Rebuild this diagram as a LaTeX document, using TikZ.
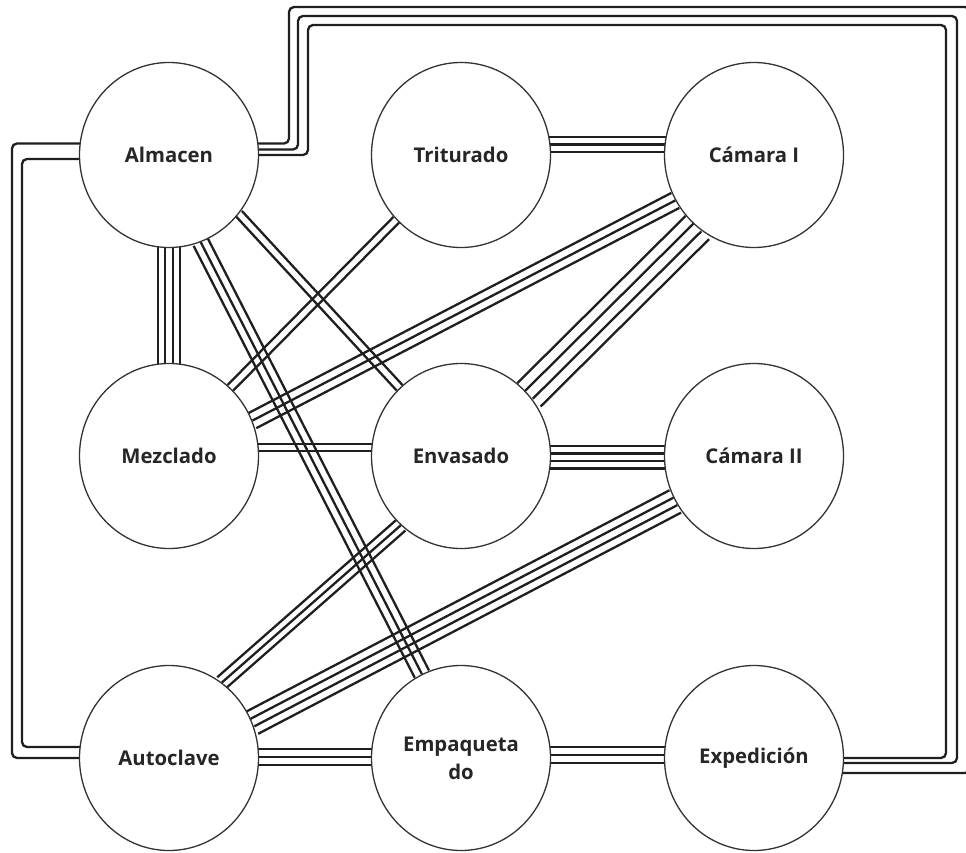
\documentclass[tikz,border=0pt]{standalone}
\usepackage{fontspec}
\setmainfont{Open Sans}
\usetikzlibrary{shapes.geometric,calc,backgrounds}

% n parallel strands between two points, each shifted sideways by an offset
\newcommand\bundle[3]{%
  \foreach \o in {#3}{%
    \draw[wire] ($(#1)!\o!90:(#2)$) -- ($(#2)!\o!-90:(#1)$);
  }}

\begin{document}
\begin{tikzpicture}[x=1pt,y=-1pt,
  station/.style={ellipse, draw=black!80, line width=1.3pt, fill=white,
    minimum width=179pt, minimum height=185pt, inner sep=0pt,
    font=\fontsize{20.3}{28}\selectfont\bfseries, text=black!85, align=center},
  wire/.style={line width=2.3pt, draw=black!88},
  route/.style={wire, rounded corners=5pt}]
\useasboundingbox (0,0) rectangle (966,853);

% stations
\node[station] (alm)  at (169,155) {Almacen};
\node[station] (tri)  at (461,155) {Triturado};
\node[station] (cam1) at (754,155) {Cámara I};
\node[station] (mez)  at (169,456) {Mezclado};
\node[station] (env)  at (461,456) {Envasado};
\node[station] (cam2) at (754,456) {Cámara II};
\node[station] (aut)  at (169,758) {Autoclave};
\node[station] (emp)  at (461,758) {Empaqueta\\do};
\node[station] (exp)  at (754,758) {Expedición};

\begin{pgfonlayer}{background}
% straight runs between neighbours
\bundle{tri}{cam1}{18pt,10.5pt,3pt}
\bundle{alm}{mez}{-11.25pt,-3.75pt,3.75pt,11.25pt}
\bundle{mez}{env}{12pt,5pt}
\bundle{env}{cam2}{10pt,2.5pt,-5pt,-12.5pt}
\bundle{aut}{emp}{8.7pt,1.2pt,-6.8pt}
\bundle{emp}{exp}{10.7pt,3pt,-5.2pt}

% diagonal runs
\bundle{alm.-70}{emp.115}{-8pt,0pt,8pt}
\bundle{alm.-40}{env.132}{-4pt,4pt}
\bundle{tri.225}{mez.48}{-4pt,4pt}
\bundle{cam1.210}{mez.23}{-8.5pt,0pt,8.5pt}
\bundle{cam1.232}{env.42}{-16.5pt,-5.5pt,5.5pt,16.5pt}
\bundle{env.229}{aut.55}{-7pt,0pt,7pt}
\bundle{cam2.210}{aut.23}{-12.6pt,-4.2pt,4.2pt,12.6pt}

% long way round: Almacen over the top to Expedicion
\draw[route] (alm |- 0,143.5) -| (289,7)  -| (970,773) -- (exp |- 0,773);
\draw[route] (alm |- 0,149.5) -| (298,16) -| (957,763) -- (exp |- 0,763);
\draw[route] (alm |- 0,155)   -| (308,25) -| (946,758) -- (exp |- 0,758);

% down the left side: Almacen to Autoclave
\draw[route] (alm |- 0,143.5) -| (12,758) -- (aut |- 0,758);
\draw[route] (alm |- 0,159)   -| (22,747) -- (aut |- 0,747);
\end{pgfonlayer}
\end{tikzpicture}
\end{document}
